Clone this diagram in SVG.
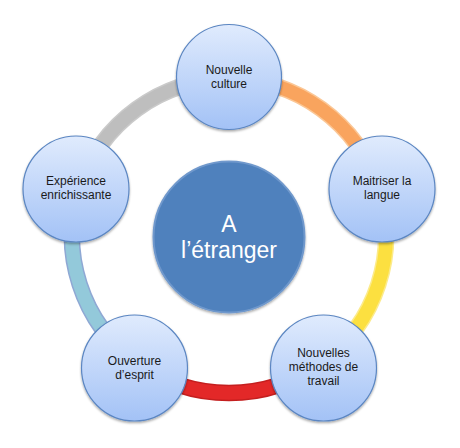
<svg xmlns="http://www.w3.org/2000/svg" width="460" height="448" viewBox="0 0 460 448">
  <defs>
    <linearGradient id="nodeGrad" x1="0" y1="0" x2="0" y2="1">
      <stop offset="0" stop-color="#E0EBFD"/>
      <stop offset="1" stop-color="#A3C2F6"/>
    </linearGradient>
    <filter id="shadow" x="-20%" y="-20%" width="140%" height="150%">
      <feDropShadow dx="0" dy="1.5" stdDeviation="1.2" flood-color="#000" flood-opacity="0.35"/>
    </filter>
  </defs>
  <style>
    .arc-edge { fill: none; stroke-width: 16.5; }
    .arc { fill: none; stroke-width: 13.5; }
    .node circle { fill: url(#nodeGrad); stroke: #5B86C2; stroke-width: 1.2; filter: url(#shadow); }
    .node text { font-family: "Liberation Sans", Arial, sans-serif; font-size: 12px; fill: #1A1A1A; text-anchor: middle; }
    .center circle { fill: #4F81BD; stroke: #6F98CC; stroke-width: 2; filter: url(#shadow); }
    .center text { font-family: "Liberation Sans", Arial, sans-serif; font-size: 23px; fill: #FFFFFF; text-anchor: middle; }
  </style>
  <rect width="460" height="448" fill="#FFFFFF"/>
  <g id="connectors">
    <path class="arc-edge" stroke="#FBC796" d="M229,79 A157,157 0 0 1 378.3,187.5"/>
    <path class="arc" stroke="#F9A45E" d="M229,79 A157,157 0 0 1 378.3,187.5"/>
    <path class="arc-edge" stroke="#FCEB8A" d="M378.3,187.5 A157,157 0 0 1 321.3,363"/>
    <path class="arc" stroke="#FCE040" d="M378.3,187.5 A157,157 0 0 1 321.3,363"/>
    <path class="arc-edge" stroke="#C41F1F" d="M321.3,363 A157,157 0 0 1 136.7,363"/>
    <path class="arc" stroke="#E32828" d="M321.3,363 A157,157 0 0 1 136.7,363"/>
    <path class="arc-edge" stroke="#8FA8D4" d="M136.7,363 A157,157 0 0 1 79.7,187.5"/>
    <path class="arc" stroke="#93C9DA" d="M136.7,363 A157,157 0 0 1 79.7,187.5"/>
    <path class="arc-edge" stroke="#CACACA" d="M79.7,187.5 A157,157 0 0 1 229,79"/>
    <path class="arc" stroke="#BEBEBE" d="M79.7,187.5 A157,157 0 0 1 229,79"/>
  </g>
  <g id="center" class="center">
    <circle cx="229" cy="237" r="75.5"/>
    <text x="229" y="232">A</text>
    <text x="229" y="258">l’étranger</text>
  </g>
  <g id="node-culture" class="node">
    <circle cx="229" cy="77" r="52.5"/>
    <text x="229" y="74">Nouvelle</text>
    <text x="229" y="87.5">culture</text>
  </g>
  <g id="node-langue" class="node">
    <circle cx="382" cy="189" r="53"/>
    <text x="382" y="185">Maitriser la</text>
    <text x="382" y="198.5">langue</text>
  </g>
  <g id="node-methodes" class="node">
    <circle cx="323.5" cy="368" r="53"/>
    <text x="323.5" y="357">Nouvelles</text>
    <text x="323.5" y="371">méthodes de</text>
    <text x="323.5" y="385">travail</text>
  </g>
  <g id="node-esprit" class="node">
    <circle cx="134.5" cy="368" r="53"/>
    <text x="134.5" y="365">Ouverture</text>
    <text x="134.5" y="378.5">d’esprit</text>
  </g>
  <g id="node-experience" class="node">
    <circle cx="76" cy="189" r="53"/>
    <text x="76" y="185">Expérience</text>
    <text x="76" y="198.5">enrichissante</text>
  </g>
</svg>
